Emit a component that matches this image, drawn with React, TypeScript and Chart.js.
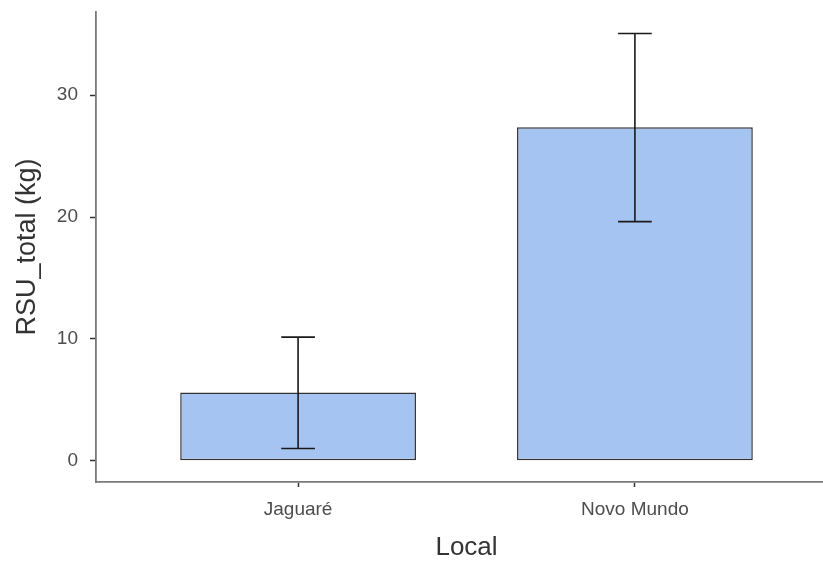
import React, { useEffect, useRef } from "react";
import { Chart, registerables } from "chart.js";

Chart.register(...registerables);

const categories = ["Jaguaré", "Novo Mundo"];
const positions = [1, 2];
const means = [5.6, 27.36];
const errLow = [1.0, 19.62];
const errHigh = [10.14, 35.07];
const yTicks = [0, 10, 20, 30];

const FONT = "'Liberation Sans', Arial, Helvetica, sans-serif";

const errorBarPlugin = {
  id: "errorBars",
  afterDatasetsDraw(chart: any) {
    const xs = chart.scales.x;
    const ys = chart.scales.y;
    const ctx = chart.ctx;
    ctx.save();
    ctx.strokeStyle = "#1a1a1a";
    ctx.lineWidth = 1.6;
    positions.forEach((p, i) => {
      const x = xs.getPixelForValue(p);
      const half = xs.getPixelForValue(p + 0.05) - x;
      const yl = ys.getPixelForValue(errLow[i]);
      const yh = ys.getPixelForValue(errHigh[i]);
      ctx.beginPath();
      ctx.moveTo(x, yl);
      ctx.lineTo(x, yh);
      ctx.moveTo(x - half, yl);
      ctx.lineTo(x + half, yl);
      ctx.moveTo(x - half, yh);
      ctx.lineTo(x + half, yh);
      ctx.stroke();
    });
    ctx.restore();
  },
};

export default function App() {
  const ref = useRef<HTMLCanvasElement>(null);
  useEffect(() => {
    if (!ref.current) return;
    const chart = new Chart(ref.current, {
      type: "bar",
      data: {
        datasets: [
          {
            data: positions.map((p, i) => ({ x: p, y: means[i] })),
            backgroundColor: "#a6c4f1",
            borderColor: "#333333",
            borderWidth: 1.5,
            borderSkipped: false,
            categoryPercentage: 1,
            barPercentage: 0.7,
          },
        ],
      },
      options: {
        responsive: false,
        animation: false,
        layout: { padding: { top: 12, right: 3, left: 0, bottom: 0 } },
        plugins: { legend: { display: false }, tooltip: { enabled: false } },
        scales: {
          x: {
            type: "linear",
            min: 0.4,
            max: 2.6,
            offset: false,
            afterBuildTicks: (s: any) => {
              s.ticks = positions.map((v) => ({ value: v }));
            },
            afterFit: (s: any) => {
              s.height = 81;
              s.paddingLeft = 0;
              s.paddingRight = 0;
            },
            ticks: {
              callback: (v: any) => categories[positions.indexOf(Number(v))] ?? "",
              font: { family: FONT, size: 19 },
              color: "#4d4d4d",
              padding: 11,
              autoSkip: false,
              maxRotation: 0,
            },
            grid: {
              display: true,
              offset: false,
              drawOnChartArea: false,
              drawTicks: true,
              tickLength: 5,
              tickColor: "#333",
              tickWidth: 1.5,
            },
            border: { display: true, color: "#7a7a7a", width: 1.8 },
            title: {
              display: true,
              text: "Local",
              font: { family: FONT, size: 26 },
              color: "#333",
              padding: { top: 0, bottom: 0 },
            },
          },
          y: {
            type: "linear",
            min: -1.754,
            max: 36.83,
            afterBuildTicks: (s: any) => {
              s.ticks = yTicks.map((v) => ({ value: v }));
            },
            afterFit: (s: any) => {
              s.width = 96;
              s.paddingTop = 0;
              s.paddingBottom = 0;
            },
            ticks: {
              font: { family: FONT, size: 19 },
              color: "#4d4d4d",
              padding: 12,
            },
            grid: {
              display: true,
              drawOnChartArea: false,
              drawTicks: true,
              tickLength: 6,
              tickColor: "#333",
              tickWidth: 1.5,
            },
            border: { display: true, color: "#7a7a7a", width: 1.8 },
            title: {
              display: true,
              text: "RSU_total (kg)",
              font: { family: FONT, size: 27 },
              color: "#333",
              padding: { top: 11, bottom: 0 },
            },
          },
        },
      },
      plugins: [errorBarPlugin],
    } as any);
    return () => chart.destroy();
  }, []);
  return (
    <div
      style={{
        position: "fixed",
        left: 0,
        top: 0,
        width: 823,
        height: 563,
        overflow: "hidden",
        background: "#fff",
      }}
    >
      <canvas ref={ref} width={840} height={563} style={{ display: "block" }} />
    </div>
  );
}
